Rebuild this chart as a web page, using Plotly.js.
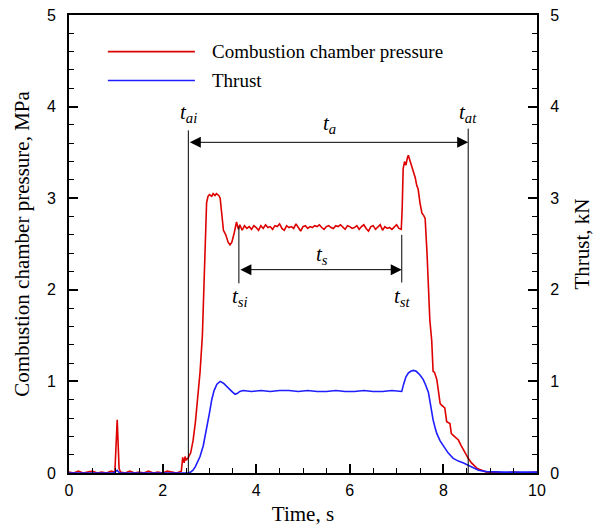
<!DOCTYPE html>
<html>
<head>
<meta charset="utf-8">
<script src="https://cdn.plot.ly/plotly-3.0.1.min.js"></script>
<style>html,body{margin:0;padding:0;background:#fff;}</style>
</head>
<body>
<div id="chart" style="width:599px;height:526px;"></div>
<script>
// Combustion chamber pressure (MPa) vs time (s)
const pressureTime = [0,0.1,0.2,0.3,0.4,0.5,0.6,0.7,0.8,0.9,0.98,1.03,1.05,1.07,1.1,1.2,1.3,1.4,1.5,1.6,1.7,1.8,1.9,2.0,2.1,2.2,2.3,2.4,2.43,2.46,2.48,2.5,2.55,2.6,2.65,2.7,2.75,2.8,2.85,2.9,2.94,2.97,3.0,3.05,3.08,3.12,3.15,3.2,3.23,3.27,3.3,3.35,3.4,3.44,3.48,3.53,3.58,3.62,
3.65,3.7,3.75,3.8,3.85,3.9,3.95,4.0,4.05,4.1,4.15,4.2,4.25,4.3,4.35,4.4,4.45,4.5,4.55,4.6,4.65,4.7,4.75,4.8,4.85,4.9,4.95,5.0,5.05,5.1,5.15,5.2,5.25,5.3,5.35,5.4,5.45,5.5,5.55,5.6,5.65,5.7,5.75,5.8,5.85,5.9,5.95,6.0,6.05,6.1,6.15,6.2,6.25,6.3,6.35,6.4,6.45,6.5,6.55,6.6,6.65,6.7,6.75,6.8,6.85,6.9,6.95,7.0,7.05,7.1,
7.12,7.14,7.17,7.2,7.23,7.25,7.28,7.32,7.36,7.4,7.43,7.46,7.5,7.54,7.58,7.61,7.65,7.68,7.71,7.75,7.78,7.81,7.86,7.93,7.96,8.03,8.07,8.14,8.17,8.21,8.27,8.32,8.38,8.43,8.5,8.53,8.6,8.64,8.72,8.82,8.92,9.1,9.3,9.5,9.7,10.0];
const pressure = [0.01,0.0,0.02,0.0,0.01,0.02,0.0,0.01,0.0,0.02,0.01,0.58,0.32,0.05,0.01,0.0,0.02,0.0,0.01,0.0,0.02,0.0,0.01,0.0,0.02,0.01,0.0,0.02,0.17,0.11,0.18,0.14,0.17,0.22,0.35,0.55,0.8,1.1,1.5,2.2,2.95,3.02,3.04,3.02,3.05,3.03,3.05,3.03,3.0,2.8,2.65,2.6,2.52,2.49,2.52,2.62,2.74,2.66,
2.71,2.65,2.70,2.67,2.69,2.66,2.70,2.68,2.65,2.70,2.67,2.71,2.68,2.69,2.66,2.70,2.69,2.72,2.67,2.65,2.70,2.68,2.69,2.67,2.72,2.68,2.64,2.69,2.70,2.67,2.69,2.68,2.70,2.69,2.71,2.68,2.66,2.69,2.70,2.68,2.67,2.70,2.69,2.71,2.68,2.66,2.70,2.69,2.67,2.68,2.70,2.66,2.69,2.71,2.67,2.64,2.69,2.70,2.66,2.68,2.71,2.65,2.69,2.67,2.68,2.66,2.69,2.71,2.67,2.66,
2.9,3.32,3.40,3.36,3.44,3.47,3.42,3.36,3.30,3.22,3.14,3.10,2.95,2.84,2.81,2.78,2.40,2.00,1.67,1.45,1.11,1.10,1.02,0.76,0.74,0.71,0.56,0.54,0.43,0.41,0.38,0.36,0.30,0.25,0.19,0.16,0.11,0.09,0.05,0.03,0.01,0.01,0.0,0.01,0.0,0.01];

// Thrust (kN) vs time (s)
const thrustTime = [0,0.5,0.95,1.03,1.08,1.5,2.0,2.5,2.55,2.6,2.65,2.7,2.75,2.8,2.87,2.94,3.0,3.05,3.1,3.16,3.23,3.3,3.37,3.44,3.5,3.55,3.6,3.65,3.72,
3.9,4.1,4.3,4.5,4.7,4.9,5.1,5.3,5.5,5.7,5.9,6.1,6.3,6.5,6.7,6.9,7.11,
7.15,7.2,7.25,7.3,7.36,7.42,7.5,7.57,7.62,7.68,7.72,7.75,7.78,7.82,7.86,7.93,8.0,8.1,8.21,8.32,8.43,8.55,8.64,8.75,8.92,9.3,10.0];
const thrust = [0.0,0.0,0.0,0.03,0.0,0.0,0.0,0.0,0.0,0.01,0.03,0.07,0.12,0.18,0.3,0.47,0.65,0.8,0.9,0.97,1.0,0.98,0.94,0.91,0.88,0.86,0.87,0.89,0.90,
0.89,0.90,0.89,0.90,0.90,0.89,0.90,0.89,0.89,0.90,0.89,0.89,0.90,0.89,0.89,0.90,0.89,
0.97,1.05,1.09,1.11,1.12,1.11,1.07,1.02,0.96,0.88,0.76,0.65,0.58,0.50,0.43,0.35,0.29,0.22,0.16,0.13,0.11,0.08,0.05,0.03,0.015,0.01,0.01];

// Characteristic times (s)
const markTimes = {tai: 2.55, tsi: 3.63, tst: 7.11, tat: 8.53};
const seriesNames = ['Combustion chamber pressure', 'Thrust'];
const xTickVals = [0,2,4,6,8,10];
const yTickVals = [0,1,2,3,4,5];

const redC = 'rgb(222,0,0)';
const blueC = 'rgb(30,30,255)';

const traces = [
  {x: pressureTime, y: pressure, type: 'scatter', mode: 'lines', name: seriesNames[0],
   line: {color: redC, width: 1.6}, yaxis: 'y', showlegend: false},
  {x: thrustTime, y: thrust, type: 'scatter', mode: 'lines', name: seriesNames[1],
   line: {color: blueC, width: 1.6}, yaxis: 'y2', showlegend: false}
];

const tickFont = {family: 'Liberation Sans, Arial, sans-serif', size: 16, color: '#000'};
const titleFont = {family: 'Liberation Serif, Times New Roman, serif', size: 21, color: '#000'};
const legFont = {family: 'Liberation Serif, Times New Roman, serif', size: 19, color: '#000'};
const labFont = {family: 'Liberation Serif, Times New Roman, serif', size: 21, color: '#000'};

const commonAxis = {
  range: [0, 5], ticks: 'inside', ticklen: 9, tickwidth: 2, tickcolor: '#000',
  tickvals: yTickVals, showgrid: false, zeroline: false, ticklabelstandoff: 8,
  showline: true, linecolor: '#000', linewidth: 2, tickfont: tickFont,
  minor: {dtick: 0.2, ticks: 'inside', ticklen: 5, tickwidth: 1, tickcolor: '#000', showgrid: false}
};

const shapes = [
  {type: 'line', xref: 'x', yref: 'y', x0: markTimes.tai, x1: markTimes.tai, y0: 0, y1: 3.74, line: {color: '#000', width: 1}},
  {type: 'line', xref: 'x', yref: 'y', x0: markTimes.tat, x1: markTimes.tat, y0: 0, y1: 3.76, line: {color: '#000', width: 1}},
  {type: 'line', xref: 'x', yref: 'y', x0: markTimes.tsi, x1: markTimes.tsi, y0: 2.07, y1: 2.69, line: {color: '#000', width: 1}},
  {type: 'line', xref: 'x', yref: 'y', x0: markTimes.tst, x1: markTimes.tst, y0: 2.08, y1: 2.60, line: {color: '#000', width: 1}},
  // legend samples
  {type: 'line', xref: 'paper', yref: 'paper', x0: 0.083, x1: 0.269, y0: 0.920, y1: 0.920, line: {color: redC, width: 1.6}},
  {type: 'line', xref: 'paper', yref: 'paper', x0: 0.083, x1: 0.269, y0: 0.857, y1: 0.857, line: {color: blueC, width: 1.6}}
];

function arrow(x0, x1, y) {
  return {x: x1, y: y, ax: x0, ay: y, xref: 'x', yref: 'y', axref: 'x', ayref: 'y',
    text: '', showarrow: true, arrowhead: 2, arrowside: 'end+start', arrowsize: 2.2,
    arrowwidth: 1, arrowcolor: '#000', standoff: 0, startstandoff: 0};
}
function label(txt, x, y, ya) {
  return {x: x, y: y, xref: 'x', yref: 'y', text: txt, showarrow: false,
    xanchor: 'center', yanchor: ya || 'middle', font: labFont};
}

const annotations = [
  arrow(markTimes.tai, markTimes.tat, 3.61),
  arrow(markTimes.tsi, markTimes.tst, 2.22),
  label('<i>t</i><sub><i>ai</i></sub>', markTimes.tai, 3.93),
  label('<i>t</i><sub><i>a</i></sub>', 5.56, 3.81),
  label('<i>t</i><sub><i>at</i></sub>', markTimes.tat, 3.93),
  label('<i>t</i><sub><i>s</i></sub>', 5.41, 2.38),
  label('<i>t</i><sub><i>si</i></sub>', markTimes.tsi + 0.02, 1.92),
  label('<i>t</i><sub><i>st</i></sub>', markTimes.tst + 0.02, 1.92),
  {xref: 'paper', yref: 'paper', x: 0.301, y: 0.920, text: seriesNames[0], showarrow: false,
   xanchor: 'left', yanchor: 'middle', font: legFont},
  {xref: 'paper', yref: 'paper', x: 0.301, y: 0.857, text: seriesNames[1], showarrow: false,
   xanchor: 'left', yanchor: 'middle', font: legFont}
];

const layout = {
  width: 599, height: 526,
  margin: {l: 69, r: 62, t: 15, b: 53},
  paper_bgcolor: '#fff', plot_bgcolor: '#fff',
  showlegend: false,
  xaxis: {
    range: [0, 10], tickvals: xTickVals, ticks: 'inside', ticklen: 9, tickwidth: 2, tickcolor: '#000',
    showgrid: false, zeroline: false, showline: true, mirror: true, linecolor: '#000', linewidth: 2,
    tickfont: tickFont, ticklabelstandoff: 2,
    minor: {dtick: 0.5, ticks: 'inside', ticklen: 5, tickwidth: 1, tickcolor: '#000', showgrid: false},
    title: {text: 'Time, s', font: titleFont, standoff: 10}
  },
  yaxis: Object.assign({}, commonAxis, {
    title: {text: 'Combustion chamber pressure, MPa', font: titleFont, standoff: 12}
  }),
  yaxis2: Object.assign({}, commonAxis, {
    overlaying: 'y', side: 'right',
    title: {text: 'Thrust, kN', font: titleFont, standoff: 16}
  }),
  shapes: shapes,
  annotations: annotations
};

Plotly.newPlot('chart', traces, layout, {displayModeBar: false, staticPlot: true});
</script>
</body>
</html>
